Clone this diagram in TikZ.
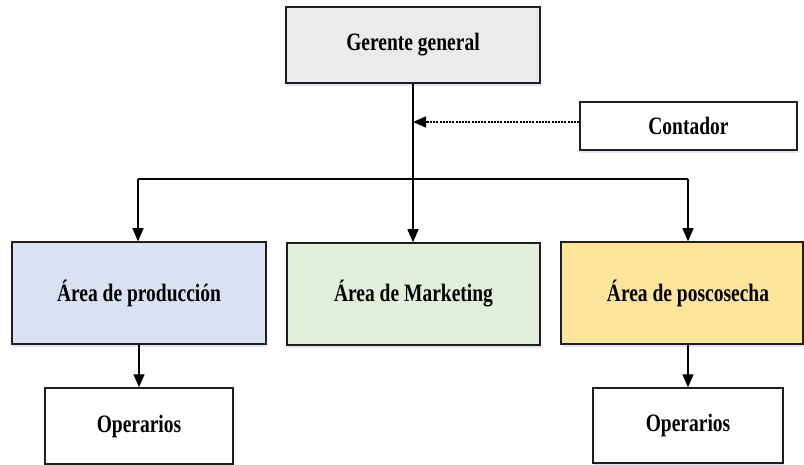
\documentclass[tikz,border=0pt]{standalone}
\usepackage{fontspec}
\setmainfont{Liberation Serif}[FakeStretch=0.78]
\usetikzlibrary{arrows.meta,shadows}
\definecolor{gerfill}{HTML}{EBEBEB}
\definecolor{prodfill}{HTML}{DAE1F3}
\definecolor{mktfill}{HTML}{E2EFD9}
\definecolor{posfill}{HTML}{FFE49C}
\definecolor{edge}{HTML}{1E1E1E}
\definecolor{shade}{HTML}{C8D6EE}
\tikzset{
  box/.style={draw=edge, line width=1.5pt, rectangle, inner sep=0pt,
    font=\fontsize{25}{28}\selectfont\bfseries,
    drop shadow={shadow xshift=1pt, shadow yshift=-3pt, fill=shade, opacity=0.6}},
  plain/.style={inner sep=0pt, font=\fontsize{25}{28}\selectfont\bfseries},
  conn/.style={draw=black, line width=1.3pt},
  arr/.style={conn, -{Triangle[length=13pt,width=11pt]}},
  dotarr/.style={draw=black, line width=1.5pt, dash pattern=on 2pt off 1.2pt, -{Triangle[length=13pt,width=11pt]}}
}
\begin{document}
\begin{tikzpicture}[x=1pt,y=-1pt]
\useasboundingbox (0,0) rectangle (804,465);
\node[box, fill=gerfill, minimum width=254pt, minimum height=76pt] (ger) at (413,45) {Gerente general};
\node[box, fill=white, minimum width=217pt, minimum height=48pt] (cont) at (688.5,126) {Contador};
\node[box, fill=prodfill, minimum width=254pt, minimum height=102pt] (prod) at (139,293) {Área de producción};
\node[box, fill=mktfill, minimum width=253pt, minimum height=102pt] (mkt) at (413.5,294) {Área de Marketing};
\node[box, fill=posfill, minimum width=242pt, minimum height=102pt] (pos) at (682,293) {};
\node[plain] (posl) at (688,293) {Área de poscosecha};
\node[box, fill=white, minimum width=188pt, minimum height=76pt] (op1) at (139,426) {Operarios};
\node[box, fill=white, minimum width=190pt, minimum height=75pt] (op2) at (688,425.5) {Operarios};
\coordinate (hl) at (138,179);
\coordinate (hr) at (688,179);
\coordinate (cs) at ([yshift=4pt]cont.west);
\draw[arr] (ger.south) -- (ger.south |- mkt.north);
\draw[conn] (hl) -- (hr);
\draw[arr] (hl) -- (hl |- prod.north);
\draw[arr] (hr) -- (hr |- pos.north);
\draw[dotarr] (cs) -- (ger.south |- cs);
\draw[arr] (prod.south) -- (op1.north);
\draw[arr] (hr |- pos.south) -- (op2.north);
\end{tikzpicture}
\end{document}
